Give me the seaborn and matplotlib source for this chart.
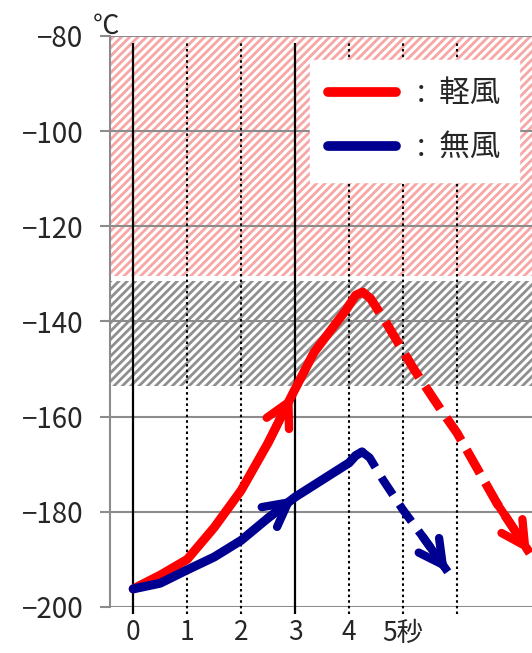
import matplotlib
matplotlib.use("Agg")
import matplotlib.pyplot as plt
import seaborn as sns
from matplotlib.lines import Line2D

# values (seconds, degrees C)
time_light_rise = [0, 0.5, 1, 1.5, 2, 2.5, 2.95, 3.35, 3.95, 4.12, 4.25]
temp_light_rise = [-196.2, -193.3, -190.0, -183.3, -175.5, -165.5, -155.3, -146.5, -137.5, -134.5, -133.8]
time_light_fall = [4.25, 4.4, 4.7, 5.2, 5.74, 6.0, 6.74, 7.35]
temp_light_fall = [-133.8, -135.2, -140.5, -150.0, -159.2, -163.4, -178.2, -188.7]

time_calm_rise = [0, 0.5, 1, 1.5, 2, 2.5, 3, 3.5, 4, 4.12, 4.24]
temp_calm_rise = [-196.2, -195.0, -192.2, -189.5, -186.0, -181.3, -176.9, -173.3, -169.7, -168.2, -167.4]
time_calm_fall = [4.24, 4.38, 4.63, 5.0, 5.37, 5.83]
temp_calm_fall = [-167.4, -168.6, -173.3, -179.6, -185.3, -192.6]

zone_red = (-130.5, -80)
zone_gray = (-153.5, -131.5)

y_ticks = [-200, -180, -160, -140, -120, -100, -80]
x_ticks = [0, 1, 2, 3, 4, 5]
x_labels = ["0", "1", "2", "3", "4", "5秒"]
solid_secs = [0, 3]
dotted_secs = [1, 2, 4, 5, 6]

sns.set_style("white")
plt.rcParams["font.family"] = ["Noto Sans CJK JP", "DejaVu Sans"]
plt.rcParams["hatch.linewidth"] = 2.0
plt.rcParams["axes.unicode_minus"] = True

fig = plt.figure(figsize=(5.32, 6.53), dpi=100)
ax = fig.add_axes([110 / 532, 1 - 607 / 653, 1 - 110 / 532, (607 - 36) / 653])

ax.axhspan(*zone_red, facecolor="white", edgecolor="#f7a6a6", hatch="////", lw=0, zorder=0)
ax.axhspan(*zone_gray, facecolor="white", edgecolor="#8f8f8f", hatch="////", lw=0, zorder=0)

for v in y_ticks:
    ax.axhline(v, color="#8c8c8c", lw=1.5, zorder=1)
for s in solid_secs:
    ax.vlines(s, -201.5, -81.5, color="black", lw=1.6, zorder=2, clip_on=False)
for s in dotted_secs:
    ax.vlines(s, -201.5, -81.5, color="black", lw=1.5, linestyles=(0, (1.2, 1.5)), zorder=2, clip_on=False)

red = "#ff0000"
blue = "#000090"
kw = dict(sort=False, lw=6.5, solid_capstyle="round", solid_joinstyle="round", zorder=4)
sns.lineplot(x=time_light_rise, y=temp_light_rise, color=red, ax=ax, **kw)
sns.lineplot(x=time_light_fall, y=temp_light_fall, color=red, ax=ax, dashes=(3, 1.2),
             sort=False, lw=6.5, zorder=4)
sns.lineplot(x=time_calm_rise, y=temp_calm_rise, color=blue, ax=ax, **kw)
sns.lineplot(x=time_calm_fall, y=temp_calm_fall, color=blue, ax=ax, dashes=(2.5, 1.4),
             sort=False, lw=6, zorder=3)

# arrow heads
head = "->,head_length=1.7,head_width=0.9"
for xs, ys, c in [(time_light_rise[5:7], temp_light_rise[5:7], red),
                  (time_light_fall[-2:], temp_light_fall[-2:], red),
                  (time_calm_rise[5:7], temp_calm_rise[5:7], blue),
                  (time_calm_fall[-2:], temp_calm_fall[-2:], blue)]:
    ax.annotate("", xy=(xs[1], ys[1]), xytext=(xs[0], ys[0]),
                arrowprops=dict(arrowstyle=head, color=c, lw=6, shrinkA=0, shrinkB=0,
                                joinstyle="miter"),
                zorder=5)

ax.set_xlim(-0.43, 7.39)
ax.set_ylim(-200, -80)
ax.set_yticks(y_ticks)
ax.set_yticklabels([f"\u2212{abs(v)}" for v in y_ticks], fontsize=20)
ax.set_xticks(x_ticks)
ax.set_xticklabels(x_labels, fontsize=19)
ax.tick_params(axis="y", length=7, width=1.5, color="#8c8c8c", pad=12, left=True)
ax.tick_params(axis="x", length=0, pad=9)
for side in ["top", "right", "bottom"]:
    ax.spines[side].set_visible(False)
ax.spines["left"].set_color("#8c8c8c")
ax.spines["left"].set_linewidth(1.5)

fig.text(93 / 532, 1 - 34 / 653, "℃", fontsize=19)

handles = [Line2D([], [], color=red, lw=7), Line2D([], [], color=blue, lw=7)]
leg = ax.legend(handles, [":  軽風", ":  無風"], loc="upper left",
                bbox_to_anchor=(310 / 532, 1 - 60 / 653), bbox_transform=fig.transFigure,
                fontsize=22, frameon=True, fancybox=False, framealpha=1,
                facecolor="white", edgecolor="white", handlelength=2.2,
                labelspacing=0.75, borderpad=0.6, handletextpad=0.7, borderaxespad=0)
leg.set_zorder(6)

fig.savefig("out.png", dpi=100)
